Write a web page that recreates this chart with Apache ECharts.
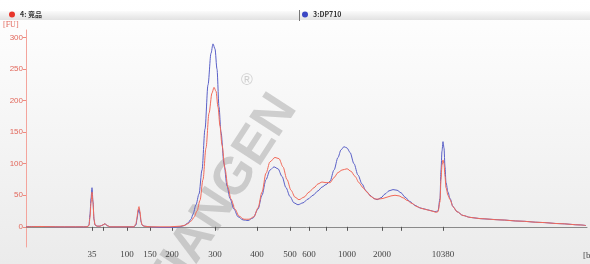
<!DOCTYPE html>
<html>
<head>
<meta charset="utf-8">
<script src="https://cdn.jsdelivr.net/npm/echarts@6/dist/echarts.min.js"></script>
<style>
  html, body { margin: 0; padding: 0; }
  #chart { width: 590px; height: 264px; }
</style>
</head>
<body>
<div id="chart"></div>
<script type="application/javascript">
// migration time (arbitrary units) -> fluorescence [FU]
const sampleName = '4: 竞品';
const refName = '3:DP710';

const sampleTime = [0, 2.8, 6.8, 10.8, 12.2, 12.6, 12.8, 13.0, 13.2, 13.4, 13.6, 13.8, 14.2, 14.8, 15.4, 15.8, 16.2, 16.8, 18.8, 21.6, 22.0, 22.2, 22.4, 22.6, 22.8, 23.0, 23.2, 23.6, 24.8, 26.8, 28.8, 30.8, 31.6, 32.4, 33.0, 33.6, 34.2, 34.8, 35.4, 36.0, 36.6, 37.2, 37.6, 38.0, 38.4, 38.8, 39.2, 39.8, 40.4, 41.0, 41.8, 42.6, 43.6, 44.6, 45.6, 46.4, 47.2, 48.0, 48.8, 49.8, 50.6, 51.4, 52.2, 53.0, 53.8, 54.6, 55.6, 56.6, 57.6, 58.4, 59.2, 60.0, 60.8, 61.6, 62.4, 63.2, 64.2, 65.0, 65.8, 66.6, 67.4, 68.2, 69.0, 69.8, 70.6, 71.4, 72.2, 73.0, 73.8, 74.6, 75.4, 76.2, 77.2, 78.2, 79.2, 80.2, 81.2, 82.0, 82.4, 82.8, 83.0, 83.2, 83.4, 83.6, 83.8, 84.0, 84.4, 84.8, 85.4, 86.2, 87.4, 88.8, 90.8, 94.8, 98.8, 102.8, 106.8, 110.8, 112.0];
const sampleFU = [0, 0.5, 0, 0, 0, 2, 15, 38, 55, 38, 12, 3, 1, 1, 3, 5, 2, 0, 0, 0, 5, 15, 27, 32, 24, 10, 3, 1, 0, 0, 0, 1, 2, 5, 9, 15, 25, 42, 75, 125, 180, 212, 221, 215, 190, 160, 130, 92, 62, 44, 28, 17, 12, 12, 16, 30, 55, 85, 103, 110, 108, 95, 75, 58, 47, 43, 47, 55, 62, 68, 71, 70, 70, 78, 86, 90, 92, 88, 80, 70, 62, 55, 48, 44, 44, 45, 47, 49, 50, 49, 46, 42, 37, 32, 29, 27, 25, 23, 24, 40, 75, 98, 106, 100, 80, 62, 50, 43, 32, 24, 18, 15, 13, 11, 9, 7, 5, 3, 2];

const refTime = [0, 2.8, 6.8, 10.8, 12.2, 12.6, 12.8, 13.0, 13.2, 13.4, 13.6, 13.8, 14.2, 14.8, 15.4, 15.8, 16.2, 16.8, 18.8, 21.6, 22.0, 22.2, 22.4, 22.6, 22.8, 23.0, 23.2, 23.6, 24.8, 26.8, 28.8, 30.8, 31.6, 32.4, 33.0, 33.4, 34.0, 34.6, 35.2, 35.8, 36.4, 37.0, 37.4, 37.8, 38.2, 38.6, 39.0, 39.6, 40.2, 40.8, 41.6, 42.4, 43.4, 44.4, 45.4, 46.4, 47.2, 48.0, 48.8, 49.6, 50.4, 51.2, 52.0, 52.8, 53.6, 54.4, 55.4, 56.4, 57.4, 58.4, 59.2, 60.0, 60.8, 61.6, 62.4, 63.0, 63.6, 64.2, 64.8, 65.6, 66.4, 67.2, 68.0, 68.8, 69.6, 70.2, 71.0, 71.8, 72.6, 73.4, 74.2, 75.0, 75.8, 76.8, 77.8, 78.8, 79.8, 80.8, 81.8, 82.4, 82.8, 83.0, 83.2, 83.4, 83.6, 83.8, 84.0, 84.4, 84.8, 85.4, 86.2, 87.4, 88.8, 90.8, 92.8, 94.8, 98.8, 102.8, 106.8, 110.8, 112.0];
const refFU = [0.5, 0.5, 0, 0, 0, 3, 20, 45, 62, 40, 12, 3, 1, 1, 3, 5, 2, 0, 0, 0, 3, 12, 22, 28, 20, 8, 3, 1, 0, -1, -1, 0, 2, 6, 12, 20, 35, 52, 90, 155, 225, 275, 290, 282, 250, 190, 150, 100, 65, 45, 28, 16, 11, 10, 14, 28, 50, 75, 90, 95, 92, 80, 62, 48, 38, 35, 38, 44, 50, 57, 63, 67, 72, 90, 110, 122, 127, 125, 118, 100, 82, 68, 57, 50, 45, 43, 46, 52, 57, 59, 58, 54, 47, 40, 34, 30, 28, 26, 24, 25, 45, 90, 120, 135, 125, 95, 70, 55, 45, 32, 24, 18, 15, 13, 12, 11, 9, 7, 5, 3, 2];

// size markers on the time axis
const xTickTimes = [13.2, 15.4, 20.2, 24.8, 29.2, 37.8, 46.2, 52.8, 56.6, 60.0, 64.2, 71.2, 75.0, 83.4];
const xTickLabels = ['35', '', '100', '150', '200', '300', '400', '500', '600', '', '1000', '2000', '', '10380'];
const yTicks = [0, 50, 100, 150, 200, 250, 300];

const zip = (xs, ys) => xs.map((x, i) => [x, ys[i]]);

const chart = echarts.init(document.getElementById('chart'));

const option = {
  animation: false,
  graphic: [
    {
      type: 'rect', z: -10, silent: true,
      shape: { x: 0, y: 0, width: 590, height: 264 },
      style: {
        fill: new echarts.graphic.LinearGradient(0, 0, 0, 1, [
          { offset: 0, color: '#ffffff' },
          { offset: 1, color: '#ebebeb' }
        ])
      }
    },
    {
      type: 'rect', z: -5, silent: true,
      shape: { x: 0, y: 11, width: 590, height: 9 },
      style: {
        fill: new echarts.graphic.LinearGradient(0, 0, 0, 1, [
          { offset: 0, color: '#fbfbfb' },
          { offset: 1, color: '#e2e2e2' }
        ])
      }
    },
    {
      type: 'rect', z: -4, silent: true,
      shape: { x: 299, y: 10, width: 1, height: 11 },
      style: { fill: '#777' }
    },
    {
      type: 'text', z: -8, silent: true,
      x: 222, y: 198, rotation: 57 * Math.PI / 180,
      style: {
        text: 'TIANGEN',
        font: 'bold 52px "Liberation Sans", Arial, sans-serif',
        fill: 'rgba(150,150,150,0.42)',
        align: 'center', verticalAlign: 'middle'
      }
    },
    {
      type: 'text', z: -8, silent: true,
      x: 247, y: 81,
      style: {
        text: '®',
        font: '16px "Liberation Sans", sans-serif',
        fill: 'rgba(150,150,150,0.42)',
        align: 'center', verticalAlign: 'middle'
      }
    },
    {
      type: 'text', silent: true, x: 3, y: 25,
      style: { text: '[FU]', font: '8px "Liberation Serif", serif', fill: '#e2685c', verticalAlign: 'middle' }
    },
    {
      type: 'text', silent: true, x: 583, y: 256,
      style: { text: '[bp]', font: '9px "Liberation Serif", serif', fill: '#444', verticalAlign: 'middle' }
    }
  ],
  legend: [
    {
      data: [sampleName], left: 9, top: 11, itemWidth: 6, itemHeight: 6, icon: 'circle',
      padding: 0, itemGap: 4,
      textStyle: { fontSize: 7, fontWeight: 'bold', color: '#333', fontFamily: '"Noto Sans CJK SC", sans-serif' }
    },
    {
      data: [refName], left: 302, top: 11, itemWidth: 6, itemHeight: 6, icon: 'circle',
      padding: 0, itemGap: 4,
      textStyle: { fontSize: 7, fontWeight: 'bold', color: '#333', fontFamily: '"Noto Sans CJK SC", sans-serif' }
    }
  ],
  grid: { left: 26, right: 3, top: 30, bottom: 17 },
  xAxis: {
    type: 'value', min: 0, max: 112.2,
    axisLine: { lineStyle: { color: '#8a8a8a', width: 1 } },
    splitLine: { show: false },
    axisTick: { customValues: xTickTimes, length: 4, lineStyle: { color: '#555' } },
    axisLabel: {
      customValues: xTickTimes.filter((t, i) => xTickLabels[i] !== ''),
      formatter: v => xTickLabels[xTickTimes.indexOf(v)],
      fontSize: 9, color: '#444', fontFamily: '"Liberation Serif", serif', margin: 3
    }
  },
  yAxis: {
    type: 'value', min: -32, max: 312,
    axisLine: { show: true, lineStyle: { color: '#f4a49c', width: 1 } },
    splitLine: { show: false },
    axisTick: { show: true, customValues: yTicks, length: 3, lineStyle: { color: '#ee8a80' } },
    axisLabel: {
      customValues: yTicks,
      fontSize: 8, color: '#e2685c', fontFamily: '"Liberation Sans", sans-serif', margin: 3
    }
  },
  series: [
    {
      name: refName, type: 'line', showSymbol: false, symbol: 'circle',
      smooth: 0.3, smoothMonotone: 'x',
      data: zip(refTime, refFU),
      itemStyle: { color: '#3b47c4' },
      lineStyle: { color: '#5a60c8', width: 1 }
    },
    {
      name: sampleName, type: 'line', showSymbol: false, symbol: 'circle',
      smooth: 0.3, smoothMonotone: 'x',
      data: zip(sampleTime, sampleFU),
      itemStyle: { color: '#e8352a' },
      lineStyle: { color: '#f26a5a', width: 1 }
    }
  ]
};

chart.setOption(option);
</script>
</body>
</html>
